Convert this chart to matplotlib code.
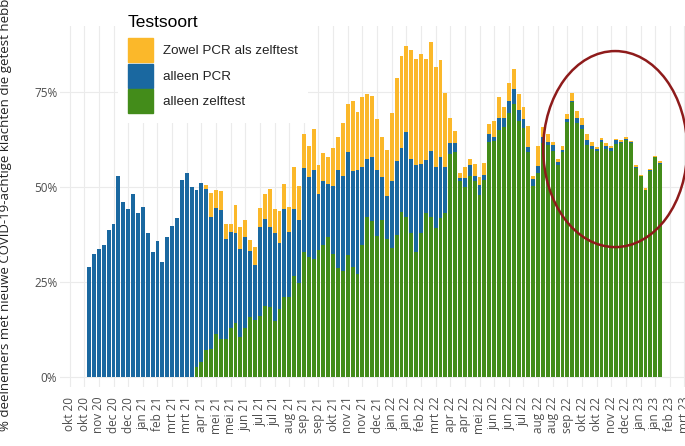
import numpy as np
import matplotlib.pyplot as plt
from matplotlib.patches import Patch, Ellipse

# Wekelijkse aandelen (%) per testsoort, vanaf week van 2 nov 2020
alleen_zelftest = [
    0, 0, 0, 0, 0, 0, 0, 0, 0, 0, 0, 0, 0, 0, 0, 0, 0, 0, 0, 0, 0, 0,
    2.6, 3.9, 7.0, 7.3, 11.4, 9.9, 10.1, 13.0, 14.3, 10.6, 12.8, 15.7, 15.1, 16.0,
    18.8, 18.4, 14.8, 17.8, 21.0, 21.1, 26.6, 24.8, 32.8, 31.7, 31.0, 33.4, 34.7, 36.9,
    32.5, 28.7, 28.0, 32.1, 28.9, 27.1, 34.7, 42.2, 41.1, 37.1, 41.3, 36.2, 33.9, 37.4,
    43.5, 42.2, 38.0, 33.0, 38.0, 43.1, 42.2, 39.1, 41.8, 43.1, 58.7, 59.3, 51.7, 50.1,
    52.9, 51.7, 47.9, 51.8, 61.9, 62.2, 65.0, 65.7, 69.6, 71.8, 67.5, 65.5, 59.3, 50.3,
    53.6, 61.5, 61.0, 59.6, 55.8, 59.3, 67.2, 72.4, 66.9, 65.4, 61.1, 59.9, 59.6, 61.9,
    59.9, 59.6, 61.3, 61.7, 62.4, 61.5, 54.9, 52.9, 49.2, 54.3, 57.8, 56.1,
]
alleen_pcr = [
    28.9, 32.4, 33.6, 34.8, 38.7, 40.3, 52.8, 46.0, 44.2, 48.2, 43.3, 44.8, 37.8, 32.9,
    35.9, 30.3, 36.9, 39.8, 41.9, 51.9, 53.6, 50.1,
    46.7, 47.1, 42.5, 34.7, 33.2, 34.0, 26.1, 25.2, 23.7, 23.0, 24.0, 17.5, 14.3, 23.4,
    22.9, 21.0, 23.2, 17.4, 23.3, 17.1, 17.5, 16.5, 22.1, 21.0, 23.5, 14.8, 17.0, 13.9,
    17.9, 25.9, 24.9, 27.1, 25.2, 27.4, 20.6, 15.3, 16.9, 17.5, 11.4, 11.4, 17.8, 19.5,
    16.9, 22.4, 19.3, 22.7, 18.2, 14.0, 17.4, 16.1, 16.0, 12.1, 3.0, 2.4, 0.8, 2.2,
    2.8, 1.2, 2.6, 1.4, 2.2, 0.9, 3.3, 2.4, 3.1, 3.9, 2.8, 2.5, 1.3, 1.7,
    1.9, 1.6, 0.9, 1.4, 0.7, 0.4, 0.6, 0.3, 1.2, 0.9, 1.3, 0.9, 0.3, 0.5,
    0.9, 0.7, 1.1, 0.2, 0.2, 0.3, 0.4, 0.1, 0.1, 0.1, 0.1, 0.3,
]
zowel = [
    0, 0, 0, 0, 0, 0, 0, 0, 0, 0, 0, 0, 0, 0, 0, 0, 0, 0, 0, 0, 0, 0,
    0, 0, 1.1, 6.5, 4.6, 5.0, 4.2, 2.2, 7.2, 6.0, 4.5, 2.8, 4.7, 5.1,
    6.5, 10.0, 6.3, 8.6, 6.5, 6.6, 11.1, 9.0, 9.2, 8.2, 10.7, 7.7, 7.3, 7.2,
    9.8, 8.6, 14.0, 12.6, 18.6, 15.3, 18.5, 17.0, 15.9, 13.2, 10.5, 12.1, 17.9, 21.7,
    24.1, 22.5, 28.8, 27.9, 28.8, 26.5, 28.7, 26.3, 25.6, 19.6, 6.4, 3.1, 1.3, 3.0,
    1.8, 3.2, 2.2, 3.2, 2.6, 4.3, 5.4, 3.1, 4.6, 5.5, 4.2, 3.0, 5.5, 0.9,
    5.3, 2.6, 2.0, 0.9, 0.8, 1.1, 1.4, 2.1, 2.0, 1.8, 1.5, 1.1, 0.7, 0.4,
    0.7, 0.5, 0.3, 0.5, 0.6, 0.4, 0.5, 0.3, 0.4, 0.3, 0.4, 0.5,
]

# x-as: om de 3 weken een label, vanaf 5 okt 2020
tick_labels = [
    'okt 20', 'okt 20', 'nov 20', 'dec 20', 'dec 20', 'jan 21', 'feb 21', 'mrt 21',
    'mrt 21', 'apr 21', 'mei 21', 'mei 21', 'jun 21', 'jul 21', 'jul 21', 'aug 21',
    'sep 21', 'sep 21', 'okt 21', 'nov 21', 'nov 21', 'dec 21', 'jan 22', 'jan 22',
    'feb 22', 'mrt 22', 'apr 22', 'apr 22', 'mei 22', 'jun 22', 'jun 22', 'jul 22',
    'aug 22', 'aug 22', 'sep 22', 'okt 22', 'okt 22', 'nov 22', 'dec 22', 'jan 23',
    'jan 23', 'feb 23', 'mrt 23',
]

c_zowel = '#FBB82A'
c_pcr = '#1A68A0'
c_zelf = '#438C1A'

zelf = np.array(alleen_zelftest)
pcr = np.array(alleen_pcr)
beide = np.array(zowel)
weeks = np.arange(len(zelf)) + 4  # weken na 5 okt 2020

W, H = 685, 446
fig = plt.figure(figsize=(W / 100, H / 100), dpi=100)
l_px, r_px, t_px, b_px = 60, 700, 26, 387
ax = fig.add_axes([l_px / W, 1 - b_px / H, (r_px - l_px) / W, (b_px - t_px) / H])

ax.bar(weeks, zelf, width=0.8, color=c_zelf, zorder=2)
ax.bar(weeks, pcr, bottom=zelf, width=0.8, color=c_pcr, zorder=2)
ax.bar(weeks, beide, bottom=zelf + pcr, width=0.8, color=c_zowel, zorder=2)

ax.set_xlim(-1.97, -1.97 + (r_px - l_px) / 4.88)
ax.set_ylim(-2.63, 92.4)
ax.set_xticks(np.arange(len(tick_labels)) * 3)
ax.set_xticklabels(tick_labels, rotation=90, fontsize=8.5, color='#4D4D4D',
                   family='Open Sans')
ax.set_yticks([0, 25, 50, 75])
ax.set_yticklabels(['0%', '25%', '50%', '75%'], fontsize=8.5, color='#4D4D4D',
                   family='Open Sans')
ax.tick_params(length=0)
ax.tick_params(axis='x', pad=7)
ax.tick_params(axis='y', pad=2)
for s in ax.spines.values():
    s.set_visible(False)
ax.grid(True, color='#EBEBEB', lw=0.8, zorder=0)
ax.set_axisbelow(True)

ax.set_ylabel('% deelnemers met nieuwe COVID-19-achtige klachten die getest hebben',
              fontsize=9.5, family='Open Sans', color='#222222')
ax.yaxis.set_label_coords((12 - l_px) / (r_px - l_px), 0.5)

# rode cirkel rond de laatste maanden
ax.add_patch(Ellipse((111.8, 60), 29.5, 51.6, fill=False, edgecolor='#8E1B1B',
                     lw=1.8, zorder=5, clip_on=False))

handles = [Patch(color=c_zowel, label='Zowel PCR als zelftest'),
           Patch(color=c_pcr, label='alleen PCR'),
           Patch(color=c_zelf, label='alleen zelftest')]
leg = fig.legend(handles=handles, title='Testsoort', loc='upper left',
                 bbox_to_anchor=(111 / W, 1 + 2 / H), frameon=True, fancybox=False,
                 edgecolor='none', facecolor='white', framealpha=1,
                 prop={'family': 'Liberation Sans', 'size': 9.6},
                 title_fontproperties={'family': 'Liberation Sans', 'size': 12.5},
                 handlelength=1.9, handleheight=2.4, handletextpad=0.75,
                 labelspacing=0.12, borderpad=0.75, alignment='left')
leg._legend_box.sep = 6
for t in leg.get_texts():
    t.set_color('#222222')

fig.savefig('out.png', dpi=100)
